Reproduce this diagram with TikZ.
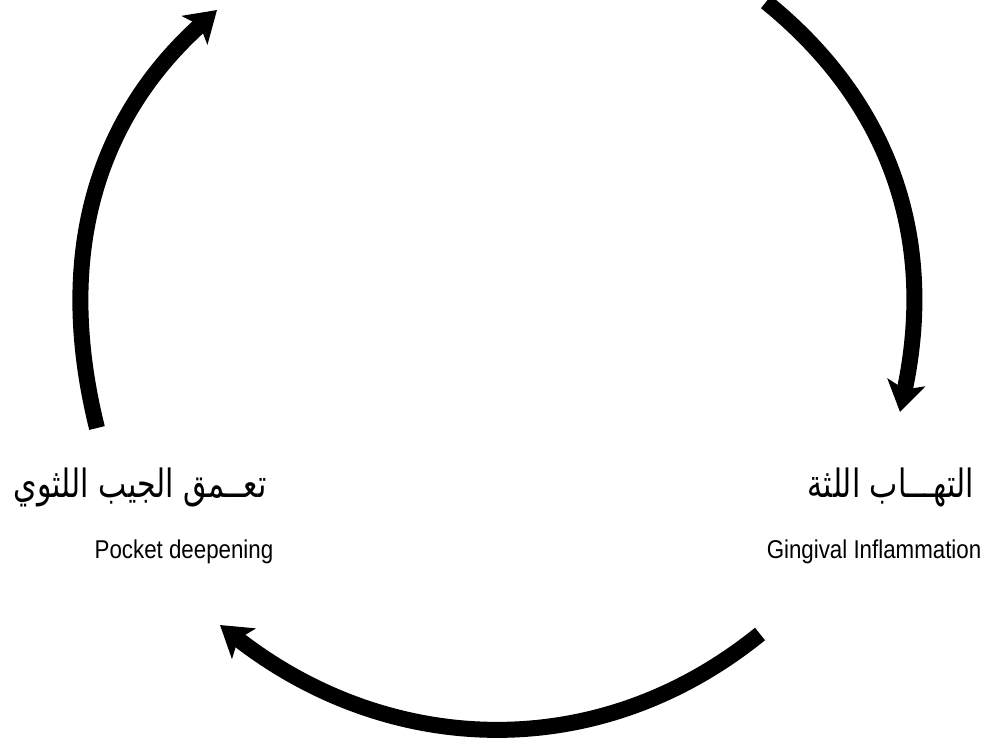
\documentclass[tikz,border=0pt]{standalone}
\usepackage{fontspec}
\setmainfont{Liberation Sans}
\newfontfamily\arabicfont[Script=Arabic]{DejaVu Sans}
\TeXXeTstate=1
\usetikzlibrary{arrows.meta}
\newcommand{\artall}[1]{\scalebox{1}[1.3]{#1}}
\newcommand{\entall}[1]{\scalebox{0.97}[1.12]{#1}}
\begin{document}
\begin{tikzpicture}[x=1pt,y=1pt,
  cyc/.style={line width=16pt, -{Stealth[length=30pt,width=38pt,inset=7pt]}},
  artext/.style={inner sep=0pt, font=\arabicfont\fontsize{30}{36}\selectfont},
  entext/.style={inner sep=0pt, font=\fontsize{23}{28}\selectfont}]
\useasboundingbox (0,0) rectangle (1006,-740);
% arc end points
\coordinate (L1) at (97,-428);
\coordinate (L2) at (217,-10);
\coordinate (R1) at (766,-2);
\coordinate (R2) at (900,-412);
\coordinate (B1) at (760,-634);
\coordinate (B2) at (220,-625);
\draw[cyc] (L1) to[out=104,in=222] (L2);
\draw[cyc] (R1) to[out=-39,in=78] (R2);
\draw[cyc] (B1) to[out=219,in=322] (B2);
% labels
\node[artext] (pa) at (140,-487) {\artall{\beginR تعــمق الجيب اللثوي\endR}};
\node[entext] (pe) at (184,-552) {\entall{Pocket deepening}};
\node[artext] (ga) at (891,-487) {\artall{\beginR التهـــاب اللثة\endR}};
\node[entext] (ge) at (874,-552) {\entall{Gingival Inflammation}};
\end{tikzpicture}
\end{document}
